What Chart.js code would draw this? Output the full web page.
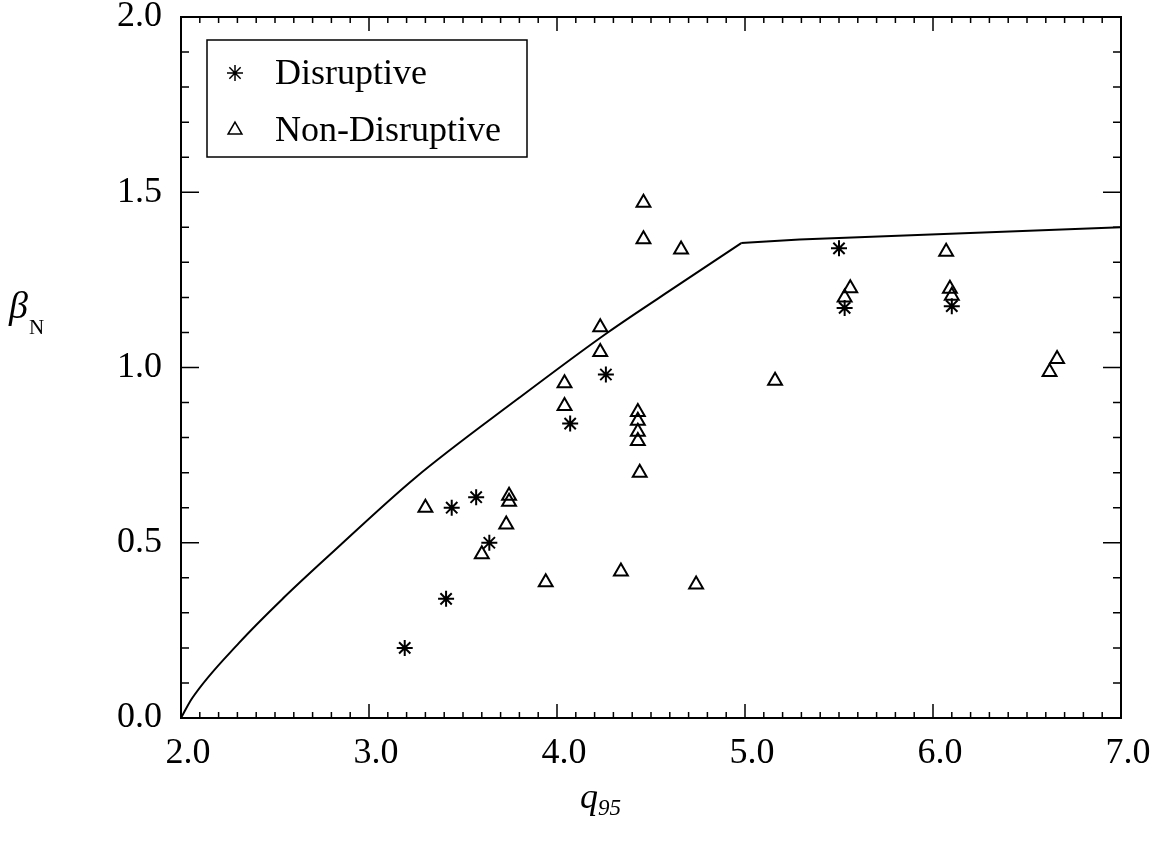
<!DOCTYPE html>
<html>
<head>
<meta charset="utf-8">
<script src="https://cdn.jsdelivr.net/npm/chart.js@4"></script>
<style>
  html, body { margin: 0; padding: 0; background: #fff; }
  #wrap { width: 1156px; height: 844px; }
</style>
</head>
<body>
<div id="wrap"><canvas id="mainChart" width="1156" height="844"></canvas></div>
<script>
// values
const disruptiveQ    = [3.19, 3.41, 3.44, 3.57, 3.64, 4.07, 4.26, 5.50, 5.53, 6.10];
const disruptiveBeta = [0.20, 0.34, 0.60, 0.63, 0.50, 0.84, 0.98, 1.34, 1.17, 1.175];

const nonDisruptiveQ    = [3.30, 3.60, 3.73, 3.745, 3.745, 3.94, 4.04, 4.04, 4.23, 4.23, 4.34,
                           4.43, 4.43, 4.43, 4.43, 4.44, 4.46, 4.46, 4.66, 4.74, 5.16,
                           5.53, 5.56, 6.07, 6.09, 6.10, 6.62, 6.66];
const nonDisruptiveBeta = [0.60, 0.467, 0.552, 0.634, 0.617, 0.387, 0.955, 0.89, 1.115, 1.044, 0.418,
                           0.873, 0.848, 0.817, 0.79, 0.70, 1.47, 1.366, 1.337, 0.381, 0.962,
                           1.20, 1.226, 1.33, 1.225, 1.205, 0.987, 1.024];

// limit curve: curved part up to the knee, then the nearly flat part
const limitQ    = [2.0, 2.06, 2.31, 2.55, 2.79, 3.245, 3.79, 4.27, 4.65, 4.98];
const limitBeta = [0.0, 0.057, 0.215, 0.345, 0.465, 0.685, 0.91, 1.10, 1.237, 1.355];
const flatQ     = [4.98, 5.29, 7.0];
const flatBeta  = [1.355, 1.365, 1.40];

const xTicks = [2, 3, 4, 5, 6, 7];
const yTicks = [0, 0.5, 1.0, 1.5, 2.0];
const seriesLabels = ['Disruptive', 'Non-Disruptive'];

const FONT = '"Liberation Serif", "Times New Roman", serif';

function pts(xs, ys) {
    return xs.map(function(x, i) { return { x: x, y: ys[i] }; });
}

function noPad(s) {
    s.paddingTop = 0; s.paddingBottom = 0; s.paddingLeft = 0; s.paddingRight = 0;
}

// frame, inward ticks on all four sides, legend box and axis titles
const framePlugin = {
    id: 'frame',
    afterDraw: function(chart) {
        const ctx = chart.ctx;
        const a = chart.chartArea;
        const xs = chart.scales.x, ys = chart.scales.y;
        ctx.save();
        ctx.strokeStyle = '#000';
        ctx.lineWidth = 2;
        ctx.strokeRect(a.left, a.top, a.right - a.left, a.bottom - a.top);

        ctx.lineWidth = 1.5;
        ctx.beginPath();
        for (let i = 0; i <= 50; i++) {
            const v = 2 + i * 0.1;
            const px = xs.getPixelForValue(v);
            const len = (i % 10 === 0) ? 14 : 6;
            ctx.moveTo(px, a.bottom); ctx.lineTo(px, a.bottom - len);
            ctx.moveTo(px, a.top); ctx.lineTo(px, a.top + len);
        }
        for (let i = 0; i <= 20; i++) {
            const v = i * 0.1;
            const py = ys.getPixelForValue(v);
            const len = (i % 5 === 0) ? 18 : 8;
            ctx.moveTo(a.left, py); ctx.lineTo(a.left + len, py);
            ctx.moveTo(a.right, py); ctx.lineTo(a.right - len, py);
        }
        ctx.stroke();

        // legend
        const lx = a.left + 26, ly = a.top + 23;
        ctx.lineWidth = 1.5;
        ctx.strokeRect(lx, ly, 320, 117);
        ctx.font = '36px ' + FONT;
        ctx.textBaseline = 'middle';
        ctx.textAlign = 'left';
        const rows = [ly + 33, ly + 90];
        [0, 1].forEach(function(k) {
            const ds = chart.data.datasets[k];
            ctx.lineWidth = 1.5;
            ctx.fillStyle = 'rgba(0,0,0,0)';
            Chart.helpers.drawPoint(ctx, {
                pointStyle: ds.pointStyle, radius: ds.radius, rotation: 0, borderWidth: 1.5
            }, lx + 28, rows[k]);
            ctx.fillStyle = '#000';
            ctx.fillText(seriesLabels[k], lx + 68, rows[k] + 2);
        });

        // y title: beta_N
        ctx.fillStyle = '#000';
        ctx.textBaseline = 'alphabetic';
        ctx.font = 'italic 38px ' + FONT;
        ctx.fillText('\u03b2', 9, 318);
        ctx.font = '21px ' + FONT;
        ctx.fillText('N', 29, 334);

        // x title: q_95
        ctx.font = 'italic 36px ' + FONT;
        ctx.fillText('q', 580, 808);
        ctx.font = 'italic 23px ' + FONT;
        ctx.fillText('95', 598, 815);
        ctx.restore();
    }
};

new Chart(document.getElementById('mainChart'), {
    type: 'scatter',
    data: {
        datasets: [{
            label: seriesLabels[0],
            data: pts(disruptiveQ, disruptiveBeta),
            pointStyle: 'star',
            radius: 8,
            borderColor: '#000',
            backgroundColor: 'rgba(0,0,0,0)',
            borderWidth: 2
        }, {
            label: seriesLabels[1],
            data: pts(nonDisruptiveQ, nonDisruptiveBeta),
            pointStyle: 'triangle',
            radius: 8,
            borderColor: '#000',
            backgroundColor: 'rgba(0,0,0,0)',
            borderWidth: 2
        }, {
            label: 'limit',
            data: pts(limitQ, limitBeta),
            showLine: true,
            pointRadius: 0,
            borderColor: '#000',
            borderWidth: 2,
            cubicInterpolationMode: 'monotone'
        }, {
            label: 'limit flat',
            data: pts(flatQ, flatBeta),
            showLine: true,
            pointRadius: 0,
            borderColor: '#000',
            borderWidth: 2,
            tension: 0
        }]
    },
    options: {
        responsive: false,
        animation: false,
        devicePixelRatio: 1,
        layout: { padding: { left: 0, top: 17, right: 35, bottom: 0 } },
        plugins: { legend: { display: false }, tooltip: { enabled: false } },
        scales: {
            x: {
                type: 'linear', min: 2, max: 7,
                afterFit: function(s) { s.height = 126; noPad(s); },
                afterBuildTicks: function(s) { s.ticks = xTicks.map(function(v) { return { value: v }; }); },
                grid: { display: false, drawTicks: false },
                border: { display: false },
                ticks: {
                    padding: 14, labelOffset: 7, color: '#000',
                    font: { family: FONT, size: 36 },
                    callback: function(v) { return Number(v).toFixed(1); }
                }
            },
            y: {
                type: 'linear', min: 0, max: 2,
                afterFit: function(s) { s.width = 181; noPad(s); },
                afterBuildTicks: function(s) { s.ticks = yTicks.map(function(v) { return { value: v }; }); },
                grid: { display: false, drawTicks: false },
                border: { display: false },
                ticks: {
                    padding: 19, color: '#000',
                    font: { family: FONT, size: 36 },
                    callback: function(v) { return Number(v).toFixed(1); }
                }
            }
        }
    },
    plugins: [framePlugin]
});
</script>
</body>
</html>
